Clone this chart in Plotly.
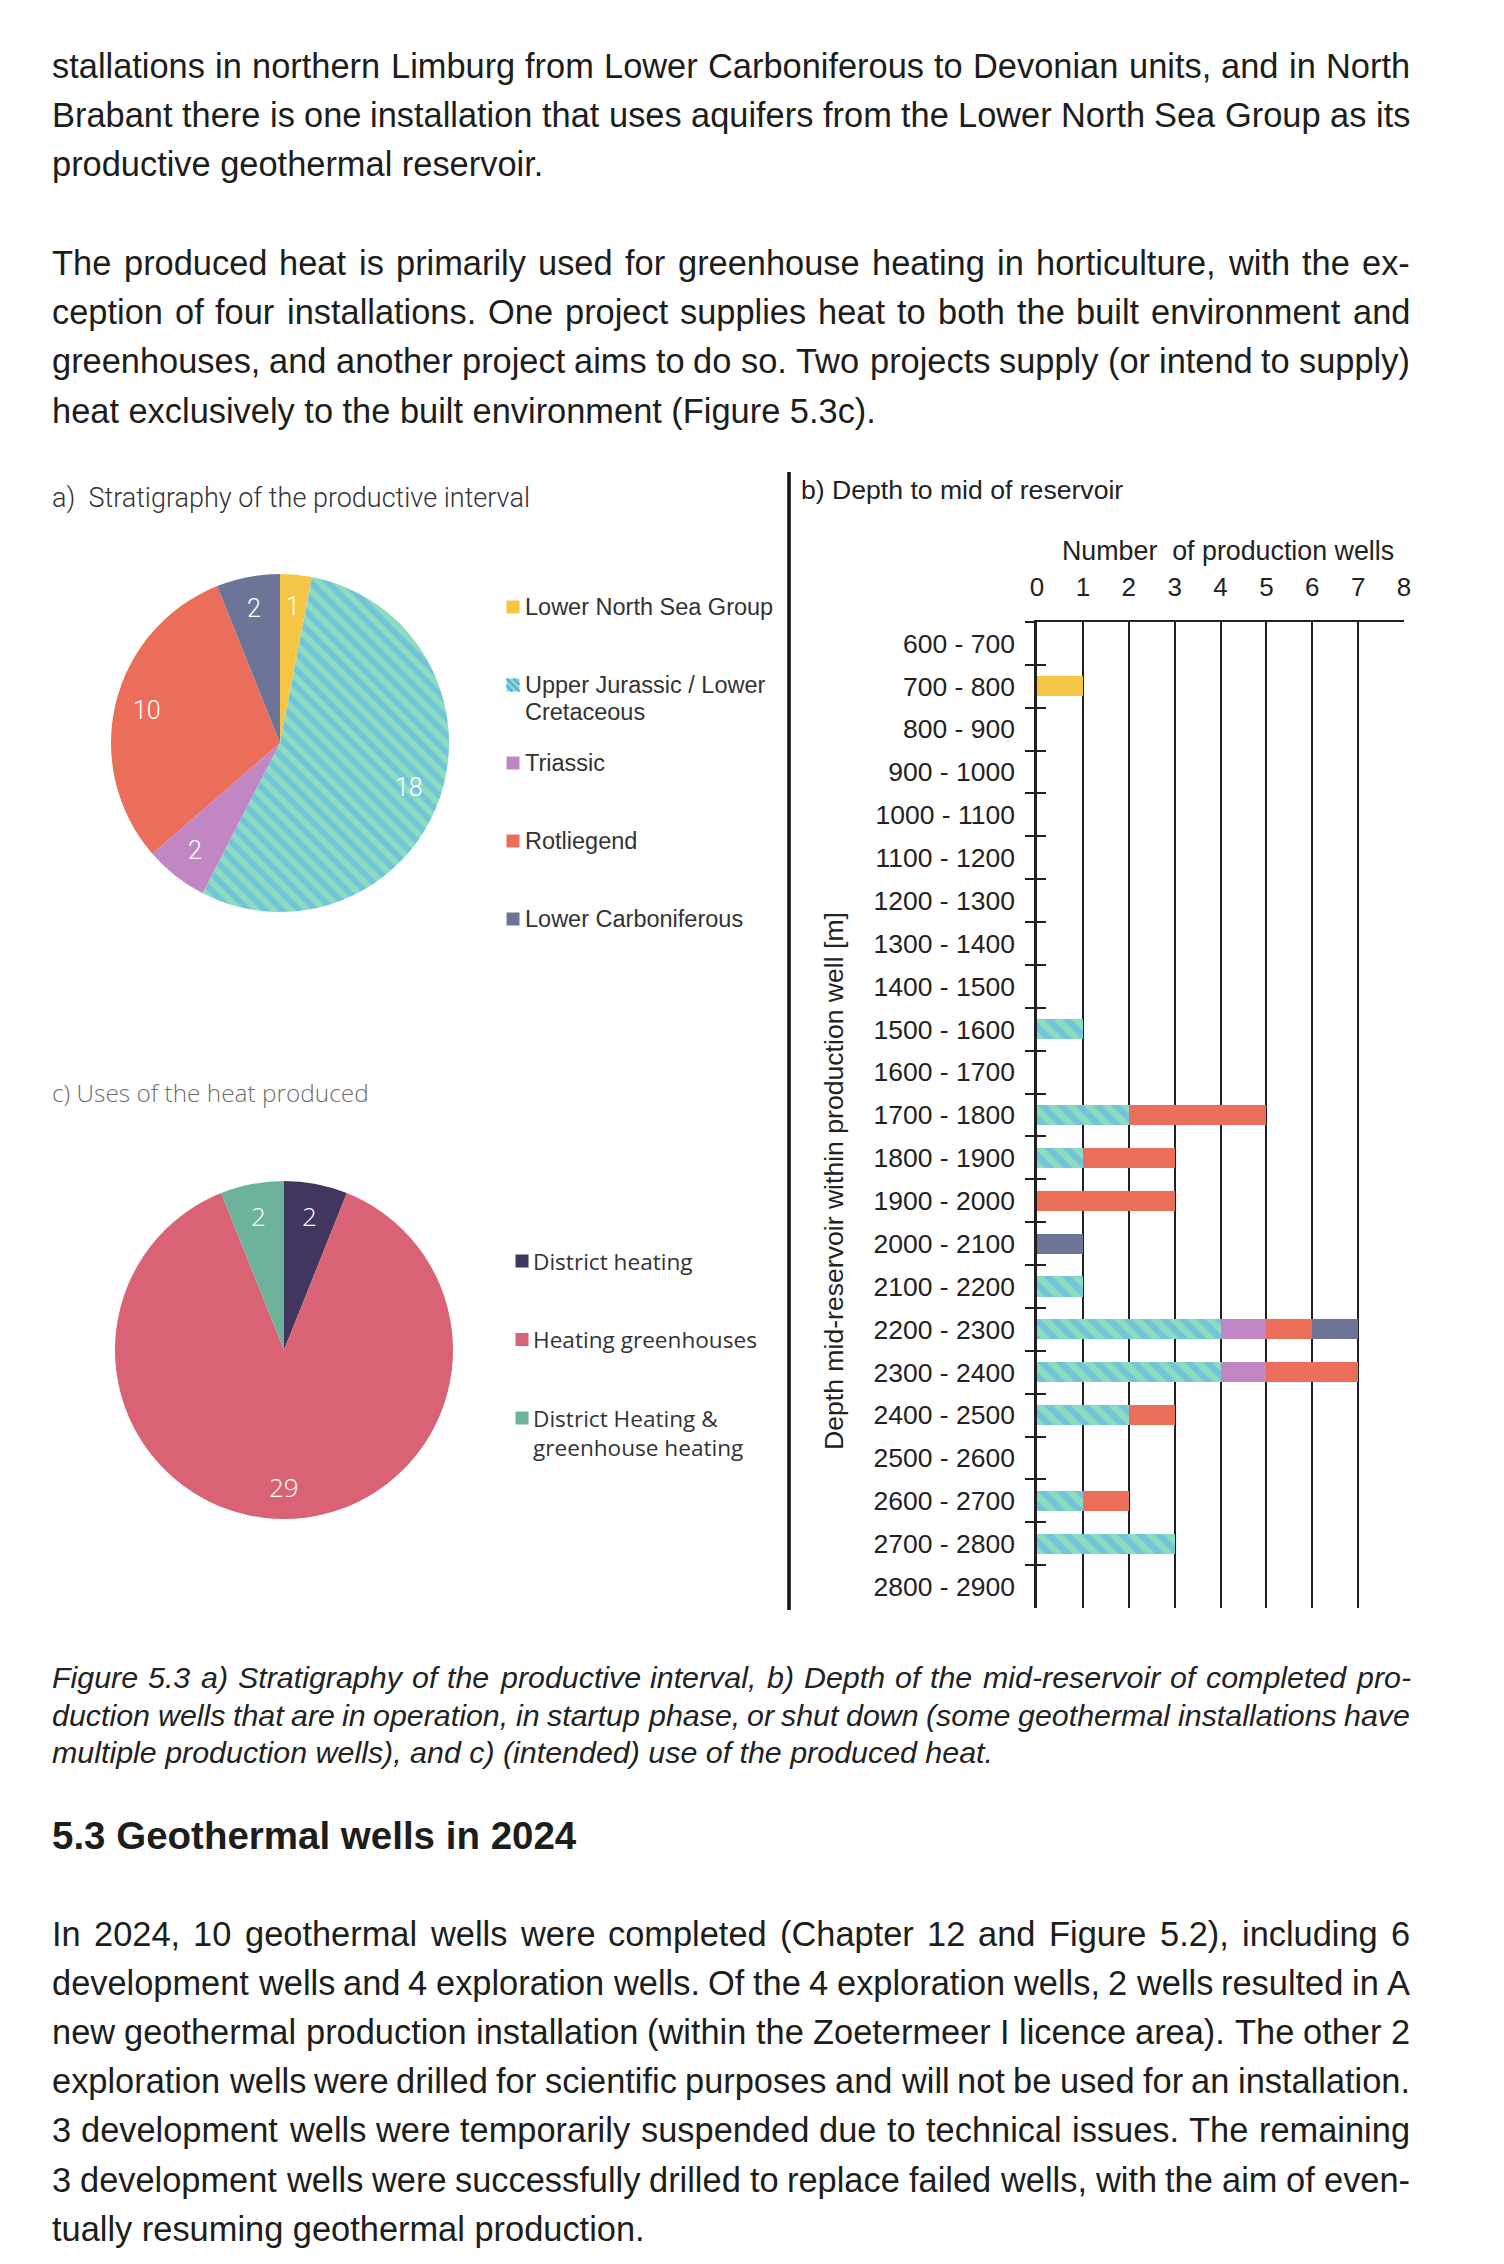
import math
import plotly.graph_objects as go

W, H = 1504, 2264

# ---- data --------------------------------------------------------------
strat_labels = ["Lower North Sea Group", "Upper Jurassic / Lower Cretaceous",
                "Triassic", "Rotliegend", "Lower Carboniferous"]
strat_counts = [1, 18, 2, 10, 2]
strat_colors = ["#f5c646", "#8edcc0", "#c187c4", "#eb6e5a", "#6c7598"]
hatch_color = "#52b0ef"

depth_bins = ["600 - 700", "700 - 800", "800 - 900", "900 - 1000",
              "1000 - 1100", "1100 - 1200", "1200 - 1300", "1300 - 1400",
              "1400 - 1500", "1500 - 1600", "1600 - 1700", "1700 - 1800",
              "1800 - 1900", "1900 - 2000", "2000 - 2100", "2100 - 2200",
              "2200 - 2300", "2300 - 2400", "2400 - 2500", "2500 - 2600",
              "2600 - 2700", "2700 - 2800", "2800 - 2900"]
wells_lnsg = [0, 1, 0, 0, 0, 0, 0, 0, 0, 0, 0, 0, 0, 0, 0, 0, 0, 0, 0, 0, 0, 0, 0]
wells_ujlc = [0, 0, 0, 0, 0, 0, 0, 0, 0, 1, 0, 2, 1, 0, 0, 1, 4, 4, 2, 0, 1, 3, 0]
wells_tri = [0, 0, 0, 0, 0, 0, 0, 0, 0, 0, 0, 0, 0, 0, 0, 0, 1, 1, 0, 0, 0, 0, 0]
wells_rot = [0, 0, 0, 0, 0, 0, 0, 0, 0, 0, 0, 3, 2, 3, 0, 0, 1, 2, 1, 0, 1, 0, 0]
wells_lc = [0, 0, 0, 0, 0, 0, 0, 0, 0, 0, 0, 0, 0, 0, 1, 0, 1, 0, 0, 0, 0, 0, 0]
well_ticks = [0, 1, 2, 3, 4, 5, 6, 7, 8]

use_labels = ["District heating", "Heating greenhouses",
              "District Heating & greenhouse heating"]
use_counts = [2, 29, 2]
use_colors = ["#41365f", "#d96275", "#6db39c"]

para1 = ["stallations in northern Limburg from Lower Carboniferous to Devonian units, and in North",
         "Brabant there is one installation that uses aquifers from the Lower North Sea Group as its",
         "productive geothermal reservoir."]
para2 = ["The produced heat is primarily used for greenhouse heating in horticulture, with the ex-",
         "ception of four installations. One project supplies heat to both the built environment and",
         "greenhouses, and another project aims to do so. Two projects supply (or intend to supply)",
         "heat exclusively to the built environment (Figure 5.3c)."]
caption = ["Figure 5.3 a) Stratigraphy of the productive interval, b) Depth of the mid-reservoir of completed pro-",
           "duction wells that are in operation, in startup phase, or shut down (some geothermal installations have",
           "multiple production wells), and c) (intended) use of the produced heat."]
heading = "5.3 Geothermal wells in 2024"
para3 = ["In 2024, 10 geothermal wells were completed (Chapter 12 and Figure 5.2), including 6",
         "development wells and 4 exploration wells. Of the 4 exploration wells, 2 wells resulted in A",
         "new geothermal production installation (within the Zoetermeer I licence area). The other 2",
         "exploration wells were drilled for scientific purposes and will not be used for an installation.",
         "3 development wells were temporarily suspended due to technical issues. The remaining",
         "3 development wells were successfully drilled to replace failed wells, with the aim of even-",
         "tually resuming geothermal production."]

BODY = "Liberation Sans, Arial, sans-serif"
LIGHT = "Roboto, Liberation Sans, sans-serif"
SEGOE = "Open Sans, Liberation Sans, sans-serif"
INK = "#1d1d1b"

# advance widths of Liberation Sans (= Arial metrics), per 1000 em
_w = {" ": 278, ",": 278, ".": 278, "-": 333, "(": 333, ")": 333, "/": 278,
      "&": 667, "A": 667, "B": 667, "C": 722, "D": 722, "F": 611, "G": 778,
      "I": 278, "L": 556, "N": 722, "O": 778, "S": 667, "T": 611, "Z": 611,
      "a": 556, "b": 556, "c": 500, "d": 556, "e": 556, "f": 278, "g": 556,
      "h": 556, "i": 222, "j": 222, "k": 500, "l": 222, "m": 833, "n": 556,
      "o": 556, "p": 556, "q": 556, "r": 333, "s": 500, "t": 278, "u": 556,
      "v": 500, "w": 722, "x": 500, "y": 500, "z": 500}


def str_width(s, size):
    return sum(_w.get(c, 556) for c in s) / 1000 * size


def px(x):
    return x / W


def py(y):
    return 1 - y / H


fig = go.Figure()
annotations = []
shapes = []


def text(s, x, y, size, color=INK, family=BODY, weight=None, xanchor="left",
         angle=0):
    font = dict(size=size, color=color, family=family)
    if weight:
        font["weight"] = weight
    annotations.append(dict(text=s, x=px(x), y=py(y), xref="paper", yref="paper",
                            xanchor=xanchor, yanchor="middle", showarrow=False,
                            textangle=angle, borderpad=0, borderwidth=0,
                            font=font))


LEFT, RIGHT = 52, 1410


def paragraph(lines, y0, step, size, color=INK, wrap=("", "")):
    # justified like the printed page: every line but the last spans the column
    for i, line in enumerate(lines):
        y = y0 + step * i
        if i == len(lines) - 1:
            text(wrap[0] + line + wrap[1], LEFT, y, size, color=color)
            continue
        words = line.split(" ")
        widths = [str_width(wd, size) for wd in words]
        gap = (RIGHT - LEFT - sum(widths)) / (len(words) - 1)
        x = LEFT
        for wd, wdw in zip(words, widths):
            text(wrap[0] + wd + wrap[1], x, y, size, color=color)
            x += wdw + gap


# ---- page text ---------------------------------------------------------
paragraph(para1, 66, 49.2, 34.4)
paragraph(para2, 263, 49.2, 34.4)
paragraph(caption, 1677, 37.6, 30.4, color="#222", wrap=("<i>", "</i>"))
text("<b>" + heading + "</b>", LEFT, 1835, 38.5)
paragraph(para3, 1934, 49.1, 34.4)

# separator between left pies and bar chart
shapes.append(dict(type="line", xref="paper", yref="paper", x0=px(789), x1=px(789),
                   y0=py(472), y1=py(1610), line=dict(color="#111", width=3.5)))


# ---- pies --------------------------------------------------------------
def pie_domain(cx, cy, r):
    return dict(x=[px(cx - r), px(cx + r)], y=[py(cy + r), py(cy - r)])


def pie_labels(values, cx, cy, r, frac, size, family):
    total = sum(values)
    cum = 0
    for v in values:
        a = (cum + v / 2) / total * 2 * math.pi
        text(str(v), cx + frac * r * math.sin(a), cy - frac * r * math.cos(a), size,
             color="white", family=family, weight=300, xanchor="center")
        cum += v


A_CX, A_CY, A_R = 280, 743, 169
fig.add_trace(go.Pie(
    values=strat_counts, labels=strat_labels, sort=False, direction="clockwise",
    rotation=0, textinfo="none", hoverinfo="label+value", showlegend=False,
    domain=pie_domain(A_CX, A_CY, A_R),
    marker=dict(colors=strat_colors, line=dict(width=0),
                pattern=dict(shape=["", "\\", "", "", ""], fgcolor=hatch_color,
                             fillmode="overlay", size=12, solidity=0.5))))
pie_labels(strat_counts, A_CX, A_CY, A_R, 0.81, 25, LIGHT)

C_CX, C_CY, C_R = 284, 1350, 169
fig.add_trace(go.Pie(
    values=use_counts, labels=use_labels, sort=False, direction="clockwise",
    rotation=0, textinfo="none", hoverinfo="label+value", showlegend=False,
    domain=pie_domain(C_CX, C_CY, C_R),
    marker=dict(colors=use_colors, line=dict(width=0))))
pie_labels(use_counts, C_CX, C_CY, C_R, 0.81, 26, SEGOE)

# panel titles
text("a)  Stratigraphy of the productive interval", LEFT, 498, 27, color="#333",
     family=LIGHT, weight=300)
text("c) Uses of the heat produced", LEFT, 1092, 24.4, color="#6e6e6e",
     family=SEGOE, weight=300)
text("b) Depth to mid of reservoir", 801, 490, 26.6, color="#222")
text("Depth mid-reservoir within production well [m]", 834, 1181, 26.6,
     color="#222", xanchor="center", angle=-90)
text("Number\u00a0 of production wells", 1228, 551, 26.8, color="#222",
     xanchor="center")


# legends drawn as squares + text
def legend_square(cx, cy, color, hatched=False):
    s = 6.5
    shapes.append(dict(type="rect", xref="paper", yref="paper",
                       x0=px(cx - s), x1=px(cx + s), y0=py(cy + s), y1=py(cy - s),
                       fillcolor=color, line=dict(width=0)))
    if hatched:
        for c in (-7, 0, 7):
            if c >= 0:
                x0, y0, x1, y1 = cx - s + c, cy - s, cx + s, cy + s - c
            else:
                x0, y0, x1, y1 = cx - s, cy - s - c, cx + s + c, cy + s
            shapes.append(dict(type="line", xref="paper", yref="paper",
                               x0=px(x0), y0=py(y0), x1=px(x1), y1=py(y1),
                               line=dict(color=hatch_color, width=2.4)))


for i, (lab, col) in enumerate(zip(strat_labels, strat_colors)):
    y = 607 + 78 * i
    legend_square(513, y, col, hatched=(i == 1))
    parts = ["Upper Jurassic / Lower", "Cretaceous"] if i == 1 else [lab]
    for j, p in enumerate(parts):
        text(p, 525, y + 27 * j, 23.5, color="#333")

for i, (lab, col) in enumerate(zip(use_labels, use_colors)):
    y = 1261 + 78.5 * i
    legend_square(522, y, col)
    parts = ["District Heating &", "greenhouse heating"] if i == 2 else [lab]
    for j, p in enumerate(parts):
        text(p, 533, y + 29 * j, 22.6, color="#333", family=SEGOE)

# ---- bar chart ---------------------------------------------------------
bar_series = [
    (strat_labels[0], wells_lnsg, strat_colors[0], ""),
    (strat_labels[1], wells_ujlc, strat_colors[1], "\\"),
    (strat_labels[2], wells_tri, strat_colors[2], ""),
    (strat_labels[3], wells_rot, strat_colors[3], ""),
    (strat_labels[4], wells_lc, strat_colors[4], ""),
]
for name, vals, col, shp in bar_series:
    fig.add_trace(go.Bar(
        x=vals, y=depth_bins, orientation="h", name=name, showlegend=False,
        marker=dict(color=col, line=dict(width=0),
                    pattern=dict(shape=shp, fgcolor=hatch_color, fillmode="overlay",
                                 size=13, solidity=0.5)),
        xaxis="x", yaxis="y"))

# helper trace for the inner half of the crossing ticks
fig.add_trace(go.Scatter(x=[None], y=[None], xaxis="x", yaxis="y2",
                         showlegend=False, hoverinfo="skip"))

AX = "#231f20"
fig.update_layout(
    width=W, height=H, margin=dict(l=0, r=0, t=0, b=0, autoexpand=False),
    paper_bgcolor="white", plot_bgcolor="white",
    barmode="stack", bargap=0.53, showlegend=False,
    font=dict(family=BODY, color=INK),
    xaxis=dict(domain=[px(1037), px(1404)], range=[0, 8], side="top",
               tickvals=well_ticks, showgrid=True, gridcolor=AX, gridwidth=2,
               showline=True, linecolor=AX, linewidth=2, zeroline=False,
               ticks="", tickfont=dict(size=26, color="#222"),
               ticklabelstandoff=14, anchor="y", automargin=False),
    yaxis=dict(domain=[py(1608), py(622)], type="category",
               categoryorder="array", categoryarray=depth_bins,
               range=[len(depth_bins) - 0.5, -0.5],
               showline=True, linecolor=AX, linewidth=2.5, showgrid=False,
               zeroline=False, ticks="outside", ticklen=9, tickwidth=2,
               tickcolor=AX, tickson="boundaries",
               tickfont=dict(size=26.5, color="#222"), ticklabelstandoff=14,
               anchor="x", automargin=False),
    yaxis2=dict(overlaying="y", anchor="x", side="left",
                range=[len(depth_bins) - 0.5, -0.5],
                tickvals=[k + 0.5 for k in range(-1, len(depth_bins))],
                ticks="inside", ticklen=9, tickwidth=2, tickcolor=AX,
                showticklabels=False, showgrid=False, zeroline=False,
                showline=False, automargin=False),
    annotations=annotations,
    shapes=shapes,
)

fig.write_html("out.html", config={"displayModeBar": False},
               post_script="document.body.style.margin='0';")
